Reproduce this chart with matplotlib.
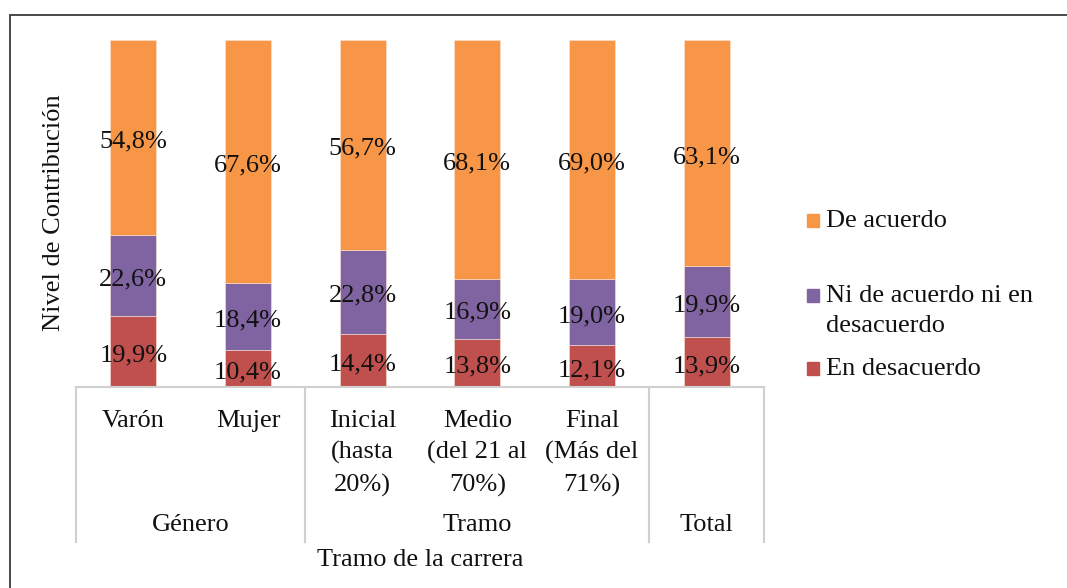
import matplotlib.pyplot as plt
import matplotlib.transforms as mtransforms
from matplotlib.patches import Rectangle
import numpy as np

plt.rcParams['font.family'] = ['Liberation Serif', 'DejaVu Serif']

# Datos (porcentajes)
categorias = ['Varón', 'Mujer', 'Inicial\n(hasta\n20%)', 'Medio\n(del 21 al\n70%)',
              'Final\n(Más del\n71%)', '']
grupos = ['Género', 'Tramo', 'Total']
grupo_centros = [0.5, 3.0, 5.0]
separadores = [-0.5, 1.5, 4.5, 5.5]

en_desacuerdo = [19.9, 10.4, 14.4, 13.8, 12.1, 13.9]
ni_ni = [22.6, 18.4, 22.8, 16.9, 19.0, 19.9]
de_acuerdo = [54.8, 67.6, 56.7, 68.1, 69.0, 63.1]

series = [('En desacuerdo', en_desacuerdo, '#C0504D'),
          ('Ni de acuerdo ni en\ndesacuerdo', ni_ni, '#8064A2'),
          ('De acuerdo', de_acuerdo, '#F79646')]

FS = 19
W, H = 1067, 588
fig = plt.figure(figsize=(W / 100, H / 100), dpi=100)

# marco exterior (recortado a la derecha y abajo)
fig.patches.append(Rectangle((10 / W, -0.1), 1.2, 1 - 15 / H + 0.1,
                             transform=fig.transFigure, fill=False,
                             edgecolor='#3a3a3a', linewidth=1.3))

ax = fig.add_axes([76 / W, 1 - 387 / H, (764 - 76) / W, (387 - 40) / H])
x = np.arange(len(categorias))
total = np.array(en_desacuerdo) + np.array(ni_ni) + np.array(de_acuerdo)

# etiquetas un poco por debajo del centro del segmento, como en Excel
baja = mtransforms.offset_copy(ax.transData, fig=fig, x=0, y=-4, units='dots')

bottom = np.zeros(len(x))
for nombre, vals, color in series:
    frac = np.array(vals) / total
    ax.bar(x, frac, 0.4, bottom=bottom, color=color, edgecolor='#fbe3d3', linewidth=0.4)
    for xi, b, f, v in zip(x, bottom, frac, vals):
        ax.text(xi, b + f / 2, f'{v:.1f}%'.replace('.', ','), ha='center', va='center',
                fontsize=FS, color='#111111', transform=baja)
    bottom += frac

ax.set_xlim(-0.5, 5.5)
ax.set_ylim(0, 1)
ax.set_xticks([])
ax.set_yticks([])
for s in ['top', 'right', 'left']:
    ax.spines[s].set_visible(False)
ax.spines['bottom'].set_color('#d0d0d0')
ax.spines['bottom'].set_linewidth(1.5)

trans = mtransforms.blended_transform_factory(ax.transData, fig.transFigure)
for sx in separadores:
    ax.plot([sx, sx], [1 - 387 / H, 1 - 542 / H], color='#d0d0d0', lw=1.5,
            transform=trans, clip_on=False)
for xi, lab in zip(x, categorias):
    ax.text(xi, 1 - 410 / H, lab, ha='center', va='top', fontsize=FS,
            linespacing=1.52, transform=trans, color='#111111')
for gx, g in zip(grupo_centros, grupos):
    ax.text(gx, 1 - 525 / H, g, ha='center', va='center', fontsize=FS,
            transform=trans, color='#111111')

fig.text(420 / W, 1 - 560 / H, 'Tramo de la carrera', ha='center', va='center',
         fontsize=FS, color='#111111')
fig.text(54 / W, 1 - 213 / H, 'Nivel de Contribución', ha='center', va='center',
         rotation=90, fontsize=FS, color='#111111')

# leyenda manual
leyenda = [('De acuerdo', '#F79646', 220), ('Ni de acuerdo ni en\ndesacuerdo', '#8064A2', 295),
           ('En desacuerdo', '#C0504D', 368)]
for texto, color, py in leyenda:
    fig.patches.append(Rectangle((807 / W, 1 - (py + 7) / H), 12 / W, 13 / H,
                                 transform=fig.transFigure, color=color))
    fig.text(826 / W, 1 - (py - 10) / H, texto, ha='left', va='top', fontsize=FS,
             linespacing=1.45, color='#111111')

fig.savefig('out.png', dpi=100, facecolor='white')
